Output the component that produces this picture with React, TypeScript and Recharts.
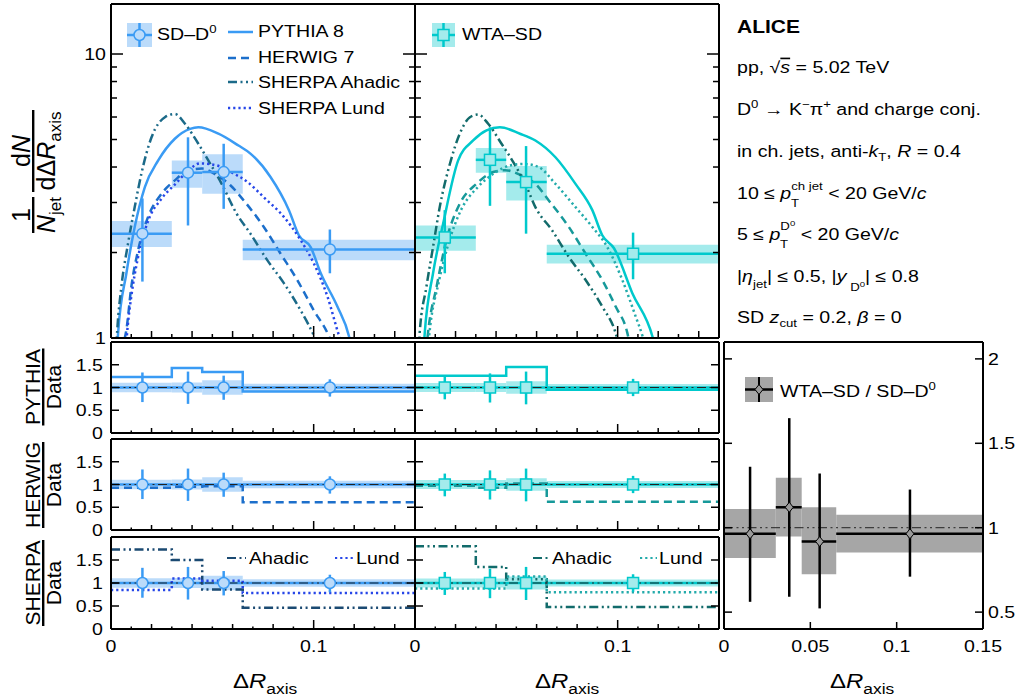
import React from "react";
import {
  ComposedChart,
  Line,
  Scatter,
  XAxis,
  YAxis,
  ReferenceArea,
  ReferenceLine,
} from "recharts";

const FONT = "'Liberation Sans', Arial, Helvetica, sans-serif";

// bin edges in Delta R_axis
const binEdges = [0, 0.03, 0.045, 0.065, 0.15];

// SD-D0 measurement
const sdX = [0.0155, 0.038, 0.0556, 0.108];
const sdY = [2.33, 3.82, 3.84, 2.05];
const sdStatLo = [1.58, 2.49, 2.85, 1.69];
const sdStatHi = [3.1, 5.09, 4.83, 2.41];
const sdSysLo = [2.09, 3.38, 3.22, 1.88];
const sdSysHi = [2.58, 4.22, 4.44, 2.22];

// WTA-SD measurement
const wtaX = [0.0147, 0.037, 0.0548, 0.1076];
const wtaY = [2.26, 4.24, 3.54, 1.98];
const wtaStatLo = [1.69, 2.92, 2.33, 1.61];
const wtaStatHi = [2.82, 5.52, 4.74, 2.35];
const wtaSysLo = [2.03, 3.82, 3.05, 1.83];
const wtaSysHi = [2.49, 4.67, 4.03, 2.13];

// model curves, SD axis
const pythiaSdX = [0.003, 0.0035, 0.0076, 0.0117, 0.0167, 0.0233, 0.0315, 0.039, 0.0431, 0.053, 0.0629, 0.0688, 0.0787, 0.0878, 0.0927, 0.0985, 0.1035, 0.1117, 0.1175, 0.119];
const pythiaSdY = [0.9, 1.04, 1.69, 2.46, 3.4, 4.22, 5.03, 5.45, 5.52, 5.24, 4.76, 4.46, 3.69, 2.82, 2.3, 2.09, 1.69, 1.29, 1.01, 0.9];
const herwigSdX = [0.0042, 0.0076, 0.01, 0.0134, 0.0183, 0.0249, 0.0315, 0.0381, 0.045, 0.052, 0.0589, 0.0655, 0.0754, 0.0837, 0.0919, 0.1001, 0.1076, 0.109];
const herwigSdY = [0.9, 1.07, 1.51, 2.04, 2.67, 3.22, 3.59, 3.89, 3.95, 3.75, 3.45, 3.05, 2.46, 1.98, 1.6, 1.25, 1.01, 0.95];
const ahadicSdX = [0.0025, 0.0031, 0.0051, 0.0084, 0.0117, 0.015, 0.02, 0.0266, 0.0315, 0.0365, 0.0431, 0.048, 0.0546, 0.062, 0.0688, 0.0771, 0.0853, 0.0936, 0.1001, 0.102];
const ahadicSdY = [0.9, 1.07, 1.51, 2.15, 2.89, 3.79, 5.09, 5.99, 6.15, 5.68, 4.83, 4.22, 3.49, 2.74, 2.33, 1.88, 1.56, 1.25, 1.02, 0.95];
const lundSdX = [0.0072, 0.0085, 0.01, 0.0135, 0.018, 0.025, 0.032, 0.0375, 0.044, 0.0523, 0.0588, 0.0672, 0.0754, 0.0853, 0.0936, 0.1001, 0.1068, 0.1125, 0.114];
const lundSdY = [0.9, 1.15, 1.4, 1.95, 2.55, 3.1, 3.5, 3.85, 4.12, 4.05, 3.85, 3.55, 3.13, 2.67, 2.21, 1.83, 1.4, 1.02, 0.95];

// model curves, WTA axis
const pythiaWtaX = [0.0042, 0.0048, 0.0089, 0.0139, 0.0213, 0.0287, 0.0353, 0.0419, 0.0518, 0.0594, 0.0693, 0.0792, 0.0875, 0.0924, 0.0982, 0.1073, 0.1172, 0.119];
const pythiaWtaY = [0.9, 1.04, 1.69, 2.53, 4.22, 4.96, 5.38, 5.52, 5.24, 4.96, 4.33, 3.49, 2.82, 2.3, 2.07, 1.435, 1.01, 0.9];
const herwigWtaX = [0.0055, 0.0064, 0.0106, 0.0155, 0.0221, 0.0303, 0.0386, 0.0445, 0.052, 0.0594, 0.066, 0.0759, 0.0842, 0.0924, 0.099, 0.1048, 0.106];
const herwigWtaY = [0.9, 1.04, 1.51, 2.21, 2.97, 3.49, 3.84, 3.9, 3.75, 3.49, 3.05, 2.46, 1.98, 1.6, 1.29, 1.04, 0.95];
const ahadicWtaX = [0.002, 0.0023, 0.0056, 0.0089, 0.0122, 0.0172, 0.0221, 0.0271, 0.0312, 0.0361, 0.0427, 0.0485, 0.0551, 0.0594, 0.0677, 0.0759, 0.0842, 0.0924, 0.099, 0.1005];
const ahadicWtaY = [0.9, 1.04, 1.51, 2.09, 2.89, 4.1, 5.24, 5.99, 6.12, 5.68, 4.83, 4.16, 3.4, 2.89, 2.39, 1.93, 1.6, 1.29, 1.04, 0.95];
const lundWtaX = [0.0062, 0.0075, 0.0115, 0.0165, 0.023, 0.031, 0.039, 0.0469, 0.054, 0.061, 0.0693, 0.0792, 0.0875, 0.0949, 0.1023, 0.1089, 0.1122, 0.1135];
const lundWtaY = [0.9, 1.1, 1.55, 2.15, 2.85, 3.4, 3.8, 4.05, 4.1, 4.0, 3.49, 2.89, 2.46, 2.09, 1.6, 1.19, 1.02, 0.95];

// model / data per bin
const pythiaSdRatio = [1.23, 1.43, 1.34, 0.91];
const herwigSdRatio = [0.93, 0.95, 0.96, 0.61];
const ahadicSdRatio = [1.73, 1.5, 0.86, 0.46];
const lundSdRatio = [0.85, 1.1, 1.05, 0.78];
const pythiaWtaRatio = [1.26, 1.26, 1.45, 0.95];
const herwigWtaRatio = [0.97, 0.93, 1.02, 0.62];
const ahadicWtaRatio = [1.8, 1.35, 1.08, 0.48];
const lundWtaRatio = [0.88, 0.88, 1.14, 0.8];

// data / data uncertainties in ratio panels
const unity = [1, 1, 1, 1];
const sdRelStatLo = [0.68, 0.64, 0.73, 0.8];
const sdRelStatHi = [1.33, 1.35, 1.26, 1.18];
const sdRelSysLo = [0.895, 0.89, 0.84, 0.917];
const sdRelSysHi = [1.105, 1.11, 1.16, 1.083];
const wtaRelStatLo = [0.74, 0.67, 0.63, 0.81];
const wtaRelStatHi = [1.24, 1.31, 1.35, 1.19];
const wtaRelSysLo = [0.9, 0.9, 0.86, 0.925];
const wtaRelSysHi = [1.1, 1.1, 1.14, 1.075];

// WTA-SD / SD-D0
const cmpX = [0.0151, 0.0378, 0.0554, 0.1077];
const cmpY = [0.964, 1.121, 0.918, 0.964];
const cmpStatLo = [0.561, 0.591, 0.522, 0.71];
const cmpStatHi = [1.361, 1.649, 1.321, 1.226];
const cmpSysLo = [0.82, 0.948, 0.724, 0.853];
const cmpSysHi = [1.111, 1.296, 1.121, 1.077];

// ticks
const xTicksFine = [0, 0.01, 0.02, 0.03, 0.04, 0.05, 0.06, 0.07, 0.08, 0.09, 0.1, 0.11, 0.12, 0.13, 0.14, 0.15];
const xTicksWide = [0, 0.05, 0.1, 0.15];
const xLabelsLeft = [0, 0.1];
const logTicks = [1, 2, 3, 4, 5, 6, 7, 8, 9, 10];
const logLabels = [1, 10];
const ratioTicks = [0, 0.5, 1, 1.5, 2];
const ratioLabels = [0, 0.5, 1, 1.5];
const cmpTicks = [0.5, 1, 1.5, 2];

const sdColor = "#3a9bf4";
const sdFill = "#bbdbfa";
const wtaColor = "#00c9cc";
const wtaFill = "#a4ebec";
const herwigL = "#1c6fcb";
const ahadicL = "#1b6a89";
const lundL = "#2646e8";
const ahadicRatioL = "#1b4a72";
const herwigM = "#16999a";
const ahadicM = "#126b6b";
const lundM = "#23abab";
const DASH = "8 5";
const DASHDOT = "9 3.5 2 3.5 2 3.5";
const DOT = "2.2 3";
const LW = 2.5;

const pts = (xs: number[], ys: number[]) => xs.map((x, i) => ({ x, y: ys[i] }));
const steps = (r: number[]) => binEdges.map((x, i) => ({ x, y: r[Math.min(i, r.length - 1)] }));
const has = (list: number[], v: number) => list.some((b) => Math.abs(b - v) < 1e-9);
const hund = (v: number) => Math.round(v * 100);

type Box = { left: number; top: number; width: number; height: number };
const PAD = { l: 60, r: 60, t: 10, b: 40 };

function T({ x, y, size = 16.3, anchor = "start", bold = false, children }: any) {
  return (
    <text
      transform={`translate(${x} ${y}) scale(1.2 1)`}
      fontFamily={FONT}
      fontSize={size}
      fontWeight={bold ? "bold" : "normal"}
      textAnchor={anchor}
      fill="#000"
    >
      {children}
    </text>
  );
}

type TP = { x?: number; y?: number; payload?: { value: number } };

function xTick(dir: 1 | -1, len: (v: number) => number, labels: number[]) {
  return (p: TP) => {
    const x = p.x ?? 0;
    const y = p.y ?? 0;
    const v = p.payload?.value ?? 0;
    const l = len(v);
    return (
      <g>
        {l > 0 && <line x1={x} x2={x} y1={y} y2={y - dir * l} stroke="#000" strokeWidth={1.5} />}
        {has(labels, v) && (
          <T x={x} y={y + 23} anchor="middle">
            {String(v)}
          </T>
        )}
      </g>
    );
  };
}

function yTick(dir: 1 | -1, len: (v: number) => number, labels: number[], gap: number) {
  return (p: TP) => {
    const x = p.x ?? 0;
    const y = p.y ?? 0;
    const v = p.payload?.value ?? 0;
    return (
      <g>
        <line x1={x} x2={x + dir * len(v)} y1={y} y2={y} stroke="#000" strokeWidth={1.5} />
        {has(labels, v) && (
          <T x={dir === 1 ? x - gap : x + gap} y={y + 6} anchor={dir === 1 ? "end" : "start"}>
            {String(v)}
          </T>
        )}
      </g>
    );
  };
}

type AxisSpec = {
  xTicks: number[];
  xLen: (v: number) => number;
  xTopLen: (v: number) => number;
  xLabels: number[];
  yTicks: number[];
  yLen: (v: number) => number;
  yDomain: [number, number];
  yLog?: boolean;
  yLabels: number[];
  yRight?: boolean;
  gap: number;
};

function axes(s: AxisSpec) {
  const common = {
    type: "number" as const,
    allowDataOverflow: true,
    interval: 0 as const,
    tickSize: 0,
    tickMargin: 0,
    tickLine: false,
    axisLine: { stroke: "#000", strokeWidth: 2 },
  };
  const scale = s.yLog ? "log" : "auto";
  return [
    <XAxis key="xb" dataKey="x" domain={[0, 0.15]} height={1} ticks={s.xTicks} tick={xTick(1, s.xLen, s.xLabels)} {...common} />,
    <XAxis key="xt" xAxisId="t" orientation="top" domain={[0, 0.15]} height={1} ticks={s.xTicks} tick={xTick(-1, s.xTopLen, [])} {...common} />,
    <YAxis key="yl" domain={s.yDomain} scale={scale as any} width={1} ticks={s.yTicks} tick={yTick(1, s.yLen, s.yRight ? [] : s.yLabels, s.gap)} {...common} />,
    <YAxis key="yr" yAxisId="r" orientation="right" domain={s.yDomain} scale={scale as any} width={1} ticks={s.yTicks} tick={yTick(-1, s.yLen, s.yRight ? s.yLabels : [], s.gap)} {...common} />,
  ];
}

function Panel({ box, children }: { box: Box; children: React.ReactNode }) {
  const w = box.width + PAD.l + PAD.r;
  const h = box.height + PAD.t + PAD.b;
  return (
    <div style={{ position: "absolute", left: box.left - PAD.l, top: box.top - PAD.t, width: w, height: h }}>
      <ComposedChart width={w} height={h} margin={{ top: PAD.t - 1, right: PAD.r - 1, bottom: PAD.b - 1, left: PAD.l - 1 }}>
        {children}
      </ComposedChart>
    </div>
  );
}

const circleShape = (p: any) => <circle cx={p.cx} cy={p.cy} r={5.5} fill={sdFill} stroke={sdColor} strokeWidth={1.5} />;
const squareShape = (p: any) => <rect x={p.cx - 5.5} y={p.cy - 5.5} width={11} height={11} fill={wtaFill} stroke={wtaColor} strokeWidth={1.5} />;
const diamondShape = (p: any) => (
  <polygon points={`${p.cx},${p.cy - 5} ${p.cx + 4},${p.cy} ${p.cx},${p.cy + 5} ${p.cx - 4},${p.cy}`} fill="#9a9a9a" stroke="#000" strokeWidth={1} />
);

function sysBoxes(key: string, lo: number[], hi: number[], fill: string) {
  return lo.map((l, i) => (
    <ReferenceArea key={`${key}${i}`} x1={binEdges[i]} x2={binEdges[i + 1]} y1={l} y2={hi[i]} fill={fill} fillOpacity={1} stroke="none" ifOverflow="hidden" />
  ));
}

function dataBars(key: string, xs: number[], ys: number[], lo: number[], hi: number[], color: string, withWidth: boolean) {
  const els: React.ReactNode[] = [];
  xs.forEach((x, i) => {
    if (withWidth)
      els.push(<ReferenceLine key={`${key}h${i}`} segment={[{ x: binEdges[i], y: ys[i] }, { x: binEdges[i + 1], y: ys[i] }]} stroke={color} strokeWidth={2.5} />);
    els.push(<ReferenceLine key={`${key}v${i}`} segment={[{ x, y: lo[i] }, { x, y: hi[i] }]} stroke={color} strokeWidth={2.5} />);
  });
  return els;
}

function curve(key: string, xs: number[], ys: number[], color: string, dash?: string) {
  return (
    <Line key={key} data={pts(xs, ys)} dataKey="y" type="monotone" stroke={color} strokeWidth={LW} strokeDasharray={dash} dot={false} activeDot={false} isAnimationActive={false} />
  );
}

function stepLine(key: string, r: number[], color: string, dash?: string) {
  return (
    <Line key={key} data={steps(r)} dataKey="y" type="stepAfter" stroke={color} strokeWidth={LW} strokeDasharray={dash} dot={false} activeDot={false} isAnimationActive={false} />
  );
}

const topXLen = (v: number) => (hund(v) % 10 === 0 ? 12 : hund(v) % 2 === 0 ? 7 : 4);
const ratioXLen = (v: number) => (hund(v) % 10 === 0 ? 9 : hund(v) % 2 === 0 ? 5 : 2.5);
const noLen = () => 0;
const logLen = (v: number) => (v === 1 || v === 10 ? 12 : 6);
const ratioYLen = () => 8;

const topSpec: AxisSpec = {
  xTicks: xTicksFine, xLen: topXLen, xTopLen: noLen, xLabels: [],
  yTicks: logTicks, yLen: logLen, yDomain: [1, 15], yLog: true, yLabels: logLabels, gap: 5,
};

function ratioSpec(labelsX: boolean, labelsY: boolean): AxisSpec {
  return {
    xTicks: xTicksFine, xLen: ratioXLen, xTopLen: ratioXLen, xLabels: labelsX ? xLabelsLeft : [],
    yTicks: ratioTicks, yLen: ratioYLen, yDomain: [0, 2], yLabels: labelsY ? ratioLabels : [], gap: 8,
  };
}

const colL = 111;
const colM = 415;
const colW = 304;
const rows = [
  { top: 342, height: 91 },
  { top: 439, height: 91 },
  { top: 537, height: 92 },
];

function ratioPanel(
  key: string,
  left: number,
  row: number,
  leftLabels: boolean,
  models: { r: number[]; color: string; dash?: string }[],
  wta: boolean
) {
  const color = wta ? wtaColor : sdColor;
  const fill = wta ? wtaFill : sdFill;
  const xs = wta ? wtaX : sdX;
  return (
    <Panel key={key} box={{ left, top: rows[row].top, width: colW, height: rows[row].height }}>
      {axes(ratioSpec(row === 2, leftLabels))}
      {sysBoxes(`${key}s`, wta ? wtaRelSysLo : sdRelSysLo, wta ? wtaRelSysHi : sdRelSysHi, fill)}
      <ReferenceLine y={1} stroke={color} strokeWidth={2.5} />
      {models.map((m, j) => stepLine(`${key}m${j}`, m.r, m.color, m.dash))}
      <ReferenceLine y={1} stroke="#222" strokeWidth={1} strokeDasharray={DASHDOT} />
      {dataBars(`${key}e`, xs, unity, wta ? wtaRelStatLo : sdRelStatLo, wta ? wtaRelStatHi : sdRelStatHi, color, false)}
      <Scatter data={pts(xs, unity)} dataKey="y" shape={wta ? squareShape : circleShape} isAnimationActive={false} />
    </Panel>
  );
}

function Overlay() {
  const lx = 228;
  return (
    <svg width={1019} height={700} style={{ position: "absolute", left: 0, top: 0, pointerEvents: "none" }}>
      {/* y title, main panel */}
      <g transform="rotate(-90)" fontFamily={FONT} fill="#000">
        <text x={-215} y={30} fontSize={25} textAnchor="middle">1</text>
        <rect x={-233} y={32} width={36} height={2.4} />
        <text x={-215} y={55} fontSize={25} textAnchor="middle">
          <tspan fontStyle="italic">N</tspan>
          <tspan fontSize={17} dy={6}>jet</tspan>
        </text>
        <text x={-151} y={30} fontSize={25} textAnchor="middle">
          d<tspan fontStyle="italic">N</tspan>
        </text>
        <rect x={-192} y={32} width={82} height={2.4} />
        <text x={-151} y={55} fontSize={25} textAnchor="middle">
          dΔ<tspan fontStyle="italic">R</tspan>
          <tspan fontSize={17} dy={6}>axis</tspan>
        </text>
        {[
          { c: 387, n: "PYTHIA", w: 77 },
          { c: 485, n: "HERWIG", w: 86 },
          { c: 583, n: "SHERPA", w: 86 },
        ].map((r) => (
          <g key={r.n}>
            <text x={-r.c} y={40} fontSize={21} textAnchor="middle">{r.n}</text>
            <rect x={-r.c - r.w / 2} y={42} width={r.w} height={2.4} />
            <text x={-r.c} y={61} fontSize={21} textAnchor="middle">Data</text>
          </g>
        ))}
      </g>

      {/* x titles */}
      {[233, 535, 830].map((x) => (
        <T key={x} x={x} y={688} size={20}>
          Δ<tspan fontStyle="italic">R</tspan>
          <tspan fontSize={14.5} dy={6}>axis</tspan>
        </T>
      ))}

      {/* legend, SD panel */}
      <rect x={127} y={23} width={25} height={24} fill={sdFill} />
      <line x1={127} x2={152} y1={35} y2={35} stroke={sdColor} strokeWidth={2.5} />
      <line x1={139.5} x2={139.5} y1={23} y2={47} stroke={sdColor} strokeWidth={2.5} />
      <circle cx={139.5} cy={35} r={5.5} fill={sdFill} stroke={sdColor} strokeWidth={1.5} />
      <T x={157} y={40}>
        SD–D<tspan fontSize={11} dy={-7}>0</tspan>
      </T>
      <line x1={lx} x2={lx + 25} y1={32} y2={32} stroke={sdColor} strokeWidth={2.5} />
      <line x1={lx} x2={lx + 25} y1={58} y2={58} stroke={herwigL} strokeWidth={2.5} strokeDasharray={DASH} />
      <line x1={lx} x2={lx + 25} y1={82} y2={82} stroke={ahadicL} strokeWidth={2.5} strokeDasharray={DASHDOT} />
      <line x1={lx} x2={lx + 25} y1={108} y2={108} stroke={lundL} strokeWidth={2.5} strokeDasharray={DOT} />
      <T x={258} y={37}>PYTHIA 8</T>
      <T x={258} y={63}>HERWIG 7</T>
      <T x={258} y={88}>SHERPA Ahadic</T>
      <T x={258} y={114}>SHERPA Lund</T>

      {/* legend, WTA panel */}
      <rect x={432} y={23} width={23} height={24} fill={wtaFill} />
      <line x1={432} x2={455} y1={35} y2={35} stroke={wtaColor} strokeWidth={2.5} />
      <line x1={443.5} x2={443.5} y1={23} y2={47} stroke={wtaColor} strokeWidth={2.5} />
      <rect x={438} y={29.5} width={11} height={11} fill={wtaFill} stroke={wtaColor} strokeWidth={1.5} />
      <T x={462} y={40}>WTA–SD</T>

      {/* SHERPA ratio legends */}
      <line x1={227} x2={246} y1={558} y2={558} stroke={ahadicRatioL} strokeWidth={2.2} strokeDasharray={DASHDOT} />
      <T x={249} y={564}>Ahadic</T>
      <line x1={335} x2={353} y1={558} y2={558} stroke={lundL} strokeWidth={2.2} strokeDasharray={DOT} />
      <T x={356} y={564}>Lund</T>
      <line x1={533} x2={550} y1={558} y2={558} stroke={ahadicM} strokeWidth={2.2} strokeDasharray={DASHDOT} />
      <T x={552} y={564}>Ahadic</T>
      <line x1={640} x2={657} y1={558} y2={558} stroke={lundM} strokeWidth={2.2} strokeDasharray={DOT} />
      <T x={659} y={564}>Lund</T>

      {/* comparison legend */}
      <rect x={745} y={377} width={28} height={25} fill="#a6a6a6" />
      <line x1={745} x2={773} y1={389.5} y2={389.5} stroke="#000" strokeWidth={2.5} />
      <line x1={759} x2={759} y1={377} y2={402} stroke="#000" strokeWidth={2} />
      <polygon points="759,384.5 763,389.5 759,394.5 755,389.5" fill="#9a9a9a" stroke="#000" strokeWidth={1} />
      <T x={780} y={397}>
        WTA–SD / SD–D<tspan fontSize={11} dy={-7}>0</tspan>
      </T>

      {/* info text */}
      <T x={737} y={33} size={17.5} bold>ALICE</T>
      <T x={737} y={73}>
        pp, √<tspan fontStyle="italic" textDecoration="overline">s</tspan> = 5.02 TeV
      </T>
      <T x={737} y={115}>
        D<tspan fontSize={11} dy={-7}>0</tspan>
        <tspan dy={7}> → K</tspan>
        <tspan fontSize={11} dy={-7}>−</tspan>
        <tspan dy={7}>π</tspan>
        <tspan fontSize={11} dy={-7}>+</tspan>
        <tspan dy={7}> and charge conj.</tspan>
      </T>
      <T x={737} y={157}>
        in ch. jets, anti-<tspan fontStyle="italic">k</tspan>
        <tspan fontSize={11} dy={4}>T</tspan>
        <tspan dy={-4}>, </tspan>
        <tspan fontStyle="italic">R</tspan> = 0.4
      </T>
      <T x={737} y={199}>
        10 ≤ <tspan fontStyle="italic">p</tspan>
        <tspan fontSize={11} dy={-9}>ch jet</tspan>
        <tspan dy={9}> &lt; 20 GeV/</tspan>
        <tspan fontStyle="italic">c</tspan>
      </T>
      <T x={791} y={207} size={11}>T</T>
      <T x={737} y={240}>
        5 ≤ <tspan fontStyle="italic">p</tspan>
        <tspan fontSize={11} dy={-10}>D</tspan>
        <tspan fontSize={8} dy={-4}>0</tspan>
        <tspan dy={14}> &lt; 20 GeV/</tspan>
        <tspan fontStyle="italic">c</tspan>
      </T>
      <T x={780} y={248} size={11}>T</T>
      <T x={737} y={282}>
        |<tspan fontStyle="italic">η</tspan>
        <tspan fontSize={11} dy={6}>jet</tspan>
        <tspan dy={-6}>| ≤ 0.5, |</tspan>
        <tspan fontStyle="italic">y</tspan>
        <tspan fontSize={11} dy={9}> D</tspan>
        <tspan fontSize={8} dy={-4}>0</tspan>
        <tspan dy={-5}>| ≤ 0.8</tspan>
      </T>
      <T x={737} y={323}>
        SD <tspan fontStyle="italic">z</tspan>
        <tspan fontSize={11} dy={4}>cut</tspan>
        <tspan dy={-4}> = 0.2, </tspan>
        <tspan fontStyle="italic">β</tspan> = 0
      </T>
    </svg>
  );
}

export default function App() {
  return (
    <div style={{ position: "absolute", left: 0, top: 0, width: 1019, height: 700, background: "#fff" }}>
      <Panel box={{ left: colL, top: 4, width: colW, height: 334 }}>
        {axes(topSpec)}
        {sysBoxes("sdb", sdSysLo, sdSysHi, sdFill)}
        {curve("py", pythiaSdX, pythiaSdY, sdColor)}
        {curve("hw", herwigSdX, herwigSdY, herwigL, DASH)}
        {curve("ah", ahadicSdX, ahadicSdY, ahadicL, DASHDOT)}
        {curve("lu", lundSdX, lundSdY, lundL, DOT)}
        {dataBars("sde", sdX, sdY, sdStatLo, sdStatHi, sdColor, true)}
        <Scatter data={pts(sdX, sdY)} dataKey="y" shape={circleShape} isAnimationActive={false} />
      </Panel>

      <Panel box={{ left: colM, top: 4, width: colW, height: 334 }}>
        {axes({ ...topSpec, yLabels: [] })}
        {sysBoxes("wtb", wtaSysLo, wtaSysHi, wtaFill)}
        {curve("py", pythiaWtaX, pythiaWtaY, wtaColor)}
        {curve("hw", herwigWtaX, herwigWtaY, herwigM, DASH)}
        {curve("ah", ahadicWtaX, ahadicWtaY, ahadicM, DASHDOT)}
        {curve("lu", lundWtaX, lundWtaY, lundM, DOT)}
        {dataBars("wte", wtaX, wtaY, wtaStatLo, wtaStatHi, wtaColor, true)}
        <Scatter data={pts(wtaX, wtaY)} dataKey="y" shape={squareShape} isAnimationActive={false} />
      </Panel>

      {ratioPanel("r0l", colL, 0, true, [{ r: pythiaSdRatio, color: sdColor }], false)}
      {ratioPanel("r1l", colL, 1, true, [{ r: herwigSdRatio, color: herwigL, dash: DASH }], false)}
      {ratioPanel("r2l", colL, 2, true, [
        { r: ahadicSdRatio, color: ahadicRatioL, dash: DASHDOT },
        { r: lundSdRatio, color: lundL, dash: DOT },
      ], false)}
      {ratioPanel("r0m", colM, 0, false, [{ r: pythiaWtaRatio, color: wtaColor }], true)}
      {ratioPanel("r1m", colM, 1, false, [{ r: herwigWtaRatio, color: herwigM, dash: DASH }], true)}
      {ratioPanel("r2m", colM, 2, false, [
        { r: ahadicWtaRatio, color: ahadicM, dash: DASHDOT },
        { r: lundWtaRatio, color: lundM, dash: DOT },
      ], true)}

      <Panel box={{ left: 724, top: 342, width: 259, height: 287 }}>
        {axes({
          xTicks: xTicksWide, xLen: () => 7, xTopLen: () => 7, xLabels: xTicksWide,
          yTicks: cmpTicks, yLen: ratioYLen, yDomain: [0.4, 2.1], yLabels: cmpTicks, yRight: true, gap: 5,
        })}
        {sysBoxes("cmb", cmpSysLo, cmpSysHi, "#a6a6a6")}
        <ReferenceLine y={1} stroke="#222" strokeWidth={1} strokeDasharray={DASHDOT} />
        {dataBars("cme", cmpX, cmpY, cmpStatLo, cmpStatHi, "#000", true)}
        <Scatter data={pts(cmpX, cmpY)} dataKey="y" shape={diamondShape} isAnimationActive={false} />
      </Panel>

      <Overlay />
    </div>
  );
}
